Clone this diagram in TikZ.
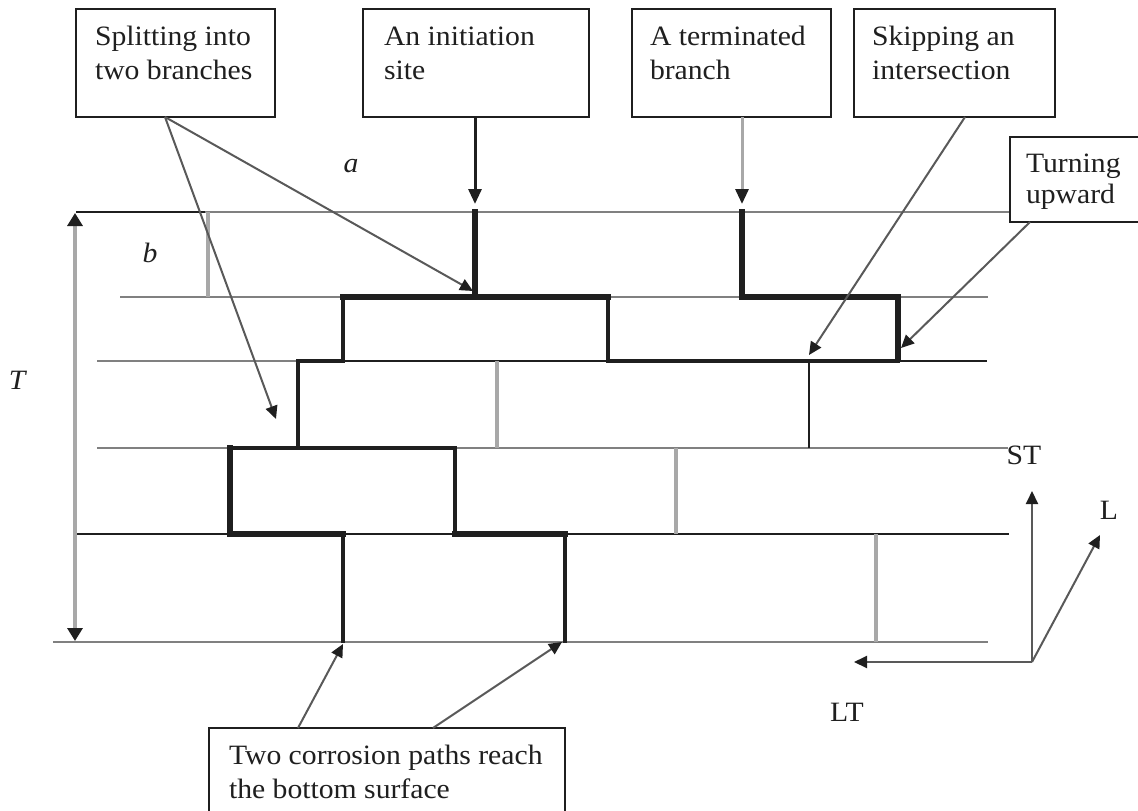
\documentclass[tikz,border=0pt]{standalone}
\usepackage{fontspec}
\setmainfont[FakeStretch=1.06]{Liberation Serif}
\usetikzlibrary{arrows.meta}
\definecolor{ink}{gray}{0.12}
\definecolor{midg}{gray}{0.5}
\definecolor{ligg}{gray}{0.66}
\newcommand{\cbox}[3]{\parbox[t][#2][t]{#1}{\raggedright\strut #3}}
\tikzset{
  x=1pt,y=-1pt,
  every node/.style={font=\fontsize{28}{34}\selectfont,text=ink},
  callout/.style={draw=ink,line width=2.6pt,fill=white,anchor=north west,inner xsep=19pt,inner ysep=13pt,outer sep=0pt},
  tag/.style={inner sep=0pt},
  ply/.style={draw=midg,line width=2.6pt},
  plyk/.style={draw=ink,line width=2.8pt},
  pale/.style={draw=ligg,line width=4pt},
  thin path/.style={draw=ink,line width=3.4pt,line cap=rect},
  mid path/.style={draw=ink,line width=4.6pt,line cap=rect,line join=miter},
  thick path/.style={draw=ink,line width=6.6pt,line cap=rect,line join=miter},
  lead/.style={draw=midg!70!black,line width=2pt,-{Triangle[width=12pt,length=13pt,fill=ink,color=ink]}},
  leadk/.style={draw=ink,line width=3pt,-{Triangle[width=13pt,length=15pt,fill=ink,color=ink]}},
  leadg/.style={draw=ligg,line width=3pt,-{Triangle[width=13pt,length=15pt,fill=ink,color=ink]}},
  dimen/.style={draw=ligg,line width=3.4pt,{Triangle[width=15pt,length=13pt,fill=ink,color=ink]}-{Triangle[width=15pt,length=13pt,fill=ink,color=ink]}}
}
\begin{document}
\begin{tikzpicture}
\useasboundingbox (0,0) rectangle (1138,811);
\clip (0,0) rectangle (1138,811);
% ply boundaries
\draw[plyk] (76,212) -- (205,212);
\draw[ply] (205,212) -- (1012,212);
\draw[ply] (120,297) -- (988,297);
\draw[ply] (97,361) -- (345,361);
\draw[plyk] (345,361) -- (987,361);
\draw[ply] (97,448) -- (1008,448);
\draw[plyk] (75,534) -- (1009,534);
\draw[ply] (53,642) -- (988,642);
% intact grain boundaries
\draw[pale,line width=3.4pt] (208,212) -- (208,297);
\draw[pale] (497,361) -- (497,448);
\draw[pale,line width=3.4pt] (676,448) -- (676,534);
\draw[pale] (876,534) -- (876,642);
% corrosion paths
\draw[thick path] (475,212) -- (475,294);
\draw[mid path,line width=5.6pt] (343,297) -- (608,297);
\draw[thin path] (343,297) -- (343,361) -- (298,361) -- (298,448);
\draw[thin path] (608,297) -- (608,361);
\draw[mid path] (608,361) -- (898,361);
\draw[thick path] (742,212) -- (742,297) -- (898,297) -- (898,359);
\draw[draw=ink,line width=2.6pt] (809,361) -- (809,448);
\draw[mid path] (230,448) -- (455,448);
\draw[thick path] (230,448) -- (230,534) -- (343,534);
\draw[mid path] (455,448) -- (455,534);
\draw[thick path] (455,534) -- (565,534);
\draw[mid path] (343,534) -- (343,641);
\draw[mid path] (565,534) -- (565,641);
% callouts
\node[callout] (split) at (76,9) {\cbox{161pt}{82pt}{Splitting into\\two branches}};
\node[callout,inner xsep=21pt] (init) at (363,9) {\cbox{184pt}{82pt}{An initiation\\site}};
\node[callout,inner xsep=18pt] (term) at (632,9) {\cbox{163pt}{82pt}{A terminated\\branch}};
\node[callout,inner xsep=18pt] (skip) at (854,9) {\cbox{165pt}{82pt}{Skipping an\\intersection}};
\node[callout,inner xsep=16pt,inner ysep=12pt] (turn) at (1010,137) {\cbox{120pt}{61pt}{\fontsize{28}{31}\selectfont Turning\\upward}};
\node[callout,inner xsep=20pt] (reach) at (209,728) {\cbox{316pt}{100pt}{Two corrosion paths reach\\the bottom surface}};
% leaders
\coordinate (branchA) at (473,291);
\coordinate (branchB) at (276,419);
\coordinate (siteTip) at (475,204);
\coordinate (termTip) at (742,204);
\coordinate (skipTip) at (809,355);
\coordinate (turnTip) at (901,348);
\coordinate (reachA) at (343,644);
\coordinate (reachB) at (562,642);
\draw[lead] (split.south -| 165,0) -- (branchA);
\draw[lead] (split.south -| 165,0) -- (branchB);
\draw[leadk] (init.south -| siteTip) -- (siteTip);
\draw[leadg] (term.south -| termTip) -- (termTip);
\draw[lead] (skip.south -| 965,0) -- (skipTip);
\draw[lead] (turn.south -| 1030,0) -- (turnTip);
\draw[lead] (reach.north -| 298,0) -- (reachA);
\draw[lead] (reach.north -| 433,0) -- (reachB);
\draw[dimen] (75,213) -- (75,641);
% axes
\coordinate (origin) at (1032,662);
\coordinate (stTip) at (1032,491);
\coordinate (lTip) at (1100,535);
\coordinate (ltTip) at (854,662);
\draw[lead] (origin) -- (stTip);
\draw[lead] (origin) -- (lTip);
\draw[lead] (origin) -- (ltTip);
% labels
\node[tag] (a) at (351,166) {\textit{a}};
\node[tag] (b) at (150,253) {\textit{b}};
\node[tag] (T) at (18,380) {\textit{T}};
\node[tag] (ST) at (1024,455) {ST};
\node[tag] (L) at (1109,510) {L};
\node[tag] (LT) at (847,712) {LT};
\end{tikzpicture}
\end{document}
